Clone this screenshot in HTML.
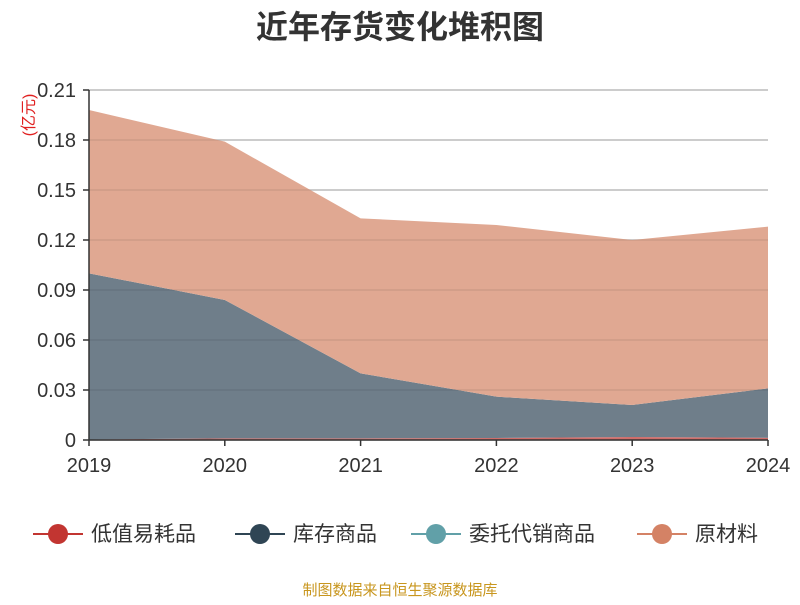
<!DOCTYPE html>
<html><head><meta charset="utf-8"><style>
body{margin:0;background:#fff;font-family:"Liberation Sans","Noto Sans CJK SC",sans-serif}
</style></head><body>
<svg id="c" width="800" height="600" xmlns="http://www.w3.org/2000/svg" font-family="Liberation Sans, Noto Sans CJK SC, sans-serif"></svg>
<script>
const categories=["2019","2020","2021","2022","2023","2024"];
const seriesNames=["低值易耗品","库存商品","委托代销商品","原材料"];
const lowValue=[0.0003,0.001,0.001,0.0012,0.0018,0.0013];
const inventory=[0.0997,0.083,0.039,0.0248,0.0192,0.0297];
const consignment=[0,0,0,0,0,0];
const rawMaterial=[0.098,0.095,0.093,0.103,0.099,0.097];
const yTicks=[0,0.03,0.06,0.09,0.12,0.15,0.18,0.21];
const yTickLabels=["0","0.03","0.06","0.09","0.12","0.15","0.18","0.21"];
const colors=["#c23531","#2f4554","#61a0a8","#d48265"];
const fills=["#d06d6a","#6f7e8a","#61a0a8","#e0a892"];
const svg=document.getElementById('c');const NS="http://www.w3.org/2000/svg";
const X0=89,X1=768,Y0=440,Y1=90;
const xs=i=>X0+(X1-X0)*i/(categories.length-1);
const ys=v=>Y0-(Y0-Y1)*v/0.21;
function mk(t,a,p){const e=document.createElementNS(NS,t);for(const k in a)e.setAttribute(k,a[k]);(p||svg).appendChild(e);return e;}
let t=mk('text',{x:400,y:38,'text-anchor':'middle','font-size':32,'font-weight':'bold',fill:'#333'});t.textContent="近年存货变化堆积图";

yTicks.forEach((v,i)=>{const g=mk('line',{x1:X0,x2:X1,y1:ys(v),y2:ys(v),stroke:'#ccc','stroke-width':1.5});

const l=mk('text',{x:76,y:ys(v)+7,'text-anchor':'end','font-size':20,fill:'#333'});l.textContent=yTickLabels[i];

mk('line',{x1:X0-6,x2:X0,y1:ys(v),y2:ys(v),stroke:'#333','stroke-width':1.5});});
const data=[lowValue,inventory,consignment,rawMaterial];
let base=categories.map(()=>0);
const areaG=mk('g',{});
data.forEach((s,k)=>{const top=base.map((b,i)=>b+s[i]);
let d='M'+categories.map((c,i)=>xs(i)+','+ys(top[i])).join('L');
for(let i=categories.length-1;i>=0;i--)d+='L'+xs(i)+','+ys(base[i]);
const p=mk('path',{d:d+'Z',fill:fills[k],opacity:k==1?1:1},areaG);

base=top;});
// keep grid visible over areas lightly
yTicks.forEach(v=>{if(v>0)mk('line',{x1:X0,x2:X1,y1:ys(v),y2:ys(v),stroke:'rgba(0,0,0,0.08)','stroke-width':1.5});});
mk('line',{x1:X0,x2:X0,y1:Y1,y2:Y0,stroke:'#333','stroke-width':1.5});
mk('line',{x1:X0,x2:X1,y1:Y0,y2:Y0,stroke:'#333','stroke-width':1.5});
categories.forEach((c,i)=>{mk('line',{x1:xs(i),x2:xs(i),y1:Y0,y2:Y0+6,stroke:'#333','stroke-width':1.5});
const l=mk('text',{x:xs(i),y:472,'text-anchor':'middle','font-size':20,fill:'#333'});l.textContent=c;
});
t=mk('text',{x:0,y:0,'font-size':16,fill:'#e02020',transform:'translate(34,115) rotate(-90)','text-anchor':'middle'});t.textContent="(亿元)";

const lx=[33,235,411,637];
seriesNames.forEach((n,k)=>{const g=mk('g',{});
mk('line',{x1:lx[k],x2:lx[k]+50,y1:534,y2:534,stroke:colors[k],'stroke-width':2},g);
mk('circle',{cx:lx[k]+25,cy:534,r:10,fill:colors[k]},g);
const l=mk('text',{x:lx[k]+58,y:541,'font-size':21,fill:'#333'},g);l.textContent=n;});
t=mk('text',{x:400,y:595,'text-anchor':'middle','font-size':15,fill:'#c8961e'});t.textContent="制图数据来自恒生聚源数据库";

</script></body></html>
